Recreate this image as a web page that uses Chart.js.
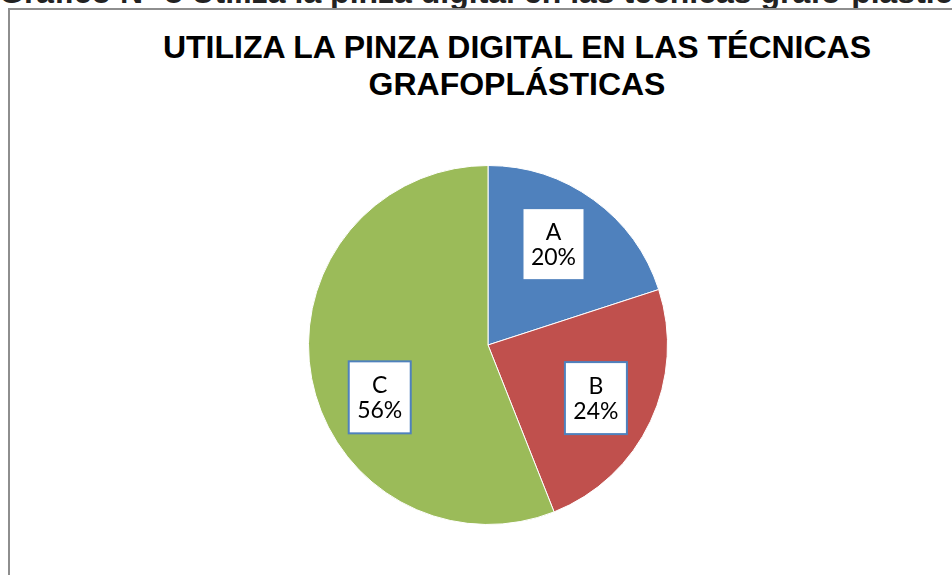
<!DOCTYPE html>
<html lang="es">
<head>
<meta charset="utf-8">
<script src="https://cdn.jsdelivr.net/npm/chart.js@4/dist/chart.umd.min.js"></script>
<style>
  html, body { margin: 0; padding: 0; background: #fff; overflow: hidden; }
  body { width: 952px; height: 575px; position: relative; font-family: "Liberation Sans", Arial, sans-serif; }
  #caption {
    position: absolute; left: -1px; top: -23px; white-space: nowrap;
    font-weight: bold; font-size: 32px; line-height: 30px; color: #222;
  }
  #frame {
    position: absolute; left: 8px; top: 8px; width: 1100px; height: 700px;
    border: 2px solid #8e8e8e; box-sizing: border-box; background: #fff;
  }
  #title {
    position: absolute; left: 0; width: 1034px; top: 29px; text-align: center;
    font-weight: bold; font-size: 32px; line-height: 37px; color: #000;
  }
  #wrap { position: absolute; left: 0; top: 0; width: 952px; height: 575px; }
</style>
</head>
<body>
<div id="caption">Gráfico N° 8 Utiliza la pinza digital en las técnicas grafo-plásticas</div>
<div id="frame"></div>
<div id="title">UTILIZA LA PINZA DIGITAL EN LAS TÉCNICAS<br>GRAFOPLÁSTICAS</div>
<div id="wrap"><canvas id="pie"></canvas></div>

<script>
// data
const categories = ["A", "B", "C"];
const percents = [20, 24, 56];
const sliceColors = ["#4F81BD", "#C0504D", "#9BBB59"];

document.addEventListener("DOMContentLoaded", () => {

  /* =========================
     LABEL BOXES
  ========================= */
  const boxLabels = {
    id: "boxLabels",
    afterDatasetsDraw(chart, args, opts) {
      const ctx = chart.ctx;
      const meta = chart.getDatasetMeta(0);
      meta.data.forEach((arc, i) => {
        const p = arc.getProps(["x", "y", "startAngle", "endAngle", "outerRadius"], true);
        const mid = (p.startAngle + p.endAngle) / 2 + (opts.nudge[i] || 0) * Math.PI / 180;
        const r = p.outerRadius * opts.radius;
        const cx = p.x + Math.cos(mid) * r;
        const cy = p.y + Math.sin(mid) * r;
        const w = 62, h = 72;

        ctx.save();
        ctx.fillStyle = "#fff";
        ctx.fillRect(cx - w / 2, cy - h / 2, w, h);
        ctx.strokeStyle = "#4F81BD";
        ctx.lineWidth = 2;
        ctx.strokeRect(cx - w / 2, cy - h / 2, w, h);

        ctx.fillStyle = "#000";
        ctx.font = "23px Lato, 'Open Sans', sans-serif";
        ctx.textAlign = "center";
        ctx.textBaseline = "middle";
        ctx.fillText(chart.data.labels[i], cx, cy - 12);
        ctx.fillText(chart.data.datasets[0].data[i] + "%", cx, cy + 13);
        ctx.restore();
      });
    }
  };

  /* =========================
     PIE CHART
  ========================= */
  new Chart(document.getElementById("pie"), {
    type: "pie",
    data: {
      labels: categories,
      datasets: [{
        data: percents,
        backgroundColor: sliceColors,
        borderColor: "#ffffff",
        borderWidth: 1
      }]
    },
    options: {
      responsive: true,
      maintainAspectRatio: false,
      animation: false,
      layout: { padding: { left: 308, right: 284, top: 165, bottom: 50 } },
      plugins: {
        legend: { display: false },
        title: { display: false },
        tooltip: { enabled: false },
        boxLabels: { radius: 0.67, nudge: [-3, 1, -15] }
      }
    },
    plugins: [boxLabels]
  });

});
</script>
</body>
</html>
